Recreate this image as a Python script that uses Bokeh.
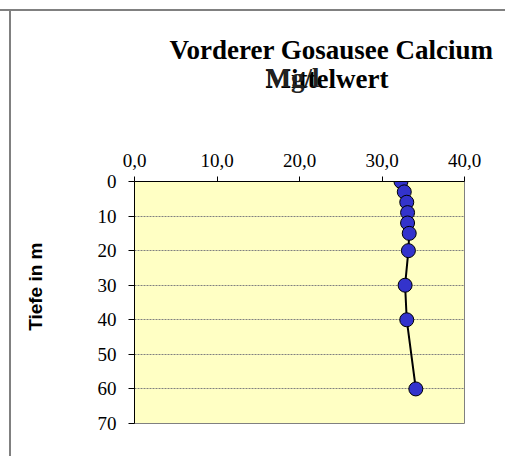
from bokeh.plotting import figure
from bokeh.models import Range1d, FixedTicker, Title
from bokeh.embed import file_html
from bokeh.resources import INLINE

# data
calcium = [32.3, 32.7, 33.0, 33.1, 33.1, 33.3, 33.2, 32.8, 33.0, 34.1]
depth = [0, 3, 6, 9, 12, 15, 20, 30, 40, 60]
x_ticks = [0, 10, 20, 30, 40]
x_tick_labels = ["0,0", "10,0", "20,0", "30,0", "40,0"]
y_ticks = [0, 10, 20, 30, 40, 50, 60, 70]
title_line1 = "Vorderer Gosausee Calcium"
title_line2a = "Mg/l"
title_line2b = "Mittelwert"
y_label = "Tiefe in m"

SERIF = "Liberation Serif"
SANS = "Liberation Sans"

frame_lines = {
    "background-image": "linear-gradient(#808080, #808080), linear-gradient(#808080, #808080)",
    "background-size": "100% 2px, 2px 100%",
    "background-position": "0px 9px, 9px 9px",
    "background-repeat": "no-repeat",
    "background-color": "white",
}

p = figure(output_backend="svg", toolbar_location=None,
           frame_width=330, frame_height=242,
           x_range=Range1d(0, 40), y_range=Range1d(70, 0),
           x_axis_location="above",
           min_border_left=134, min_border_right=41,
           min_border_top=181, min_border_bottom=33,
           background_fill_color="#FFFFC4", border_fill_color=None,
           outline_line_color="#808080",
           styles=frame_lines)

p.xaxis.ticker = FixedTicker(ticks=x_ticks)
p.xaxis.major_label_overrides = {t: l for t, l in zip(x_ticks, x_tick_labels)}
p.yaxis.ticker = FixedTicker(ticks=y_ticks)
for ax in (p.xaxis, p.yaxis):
    ax.major_label_text_font = SERIF
    ax.major_label_text_font_size = "19px"
    ax.major_label_text_color = "black"
    ax.axis_line_color = "black"
    ax.major_tick_line_color = "black"
    ax.major_tick_in = 0
    ax.minor_tick_line_color = None
p.xaxis.major_tick_out = 5
p.xaxis.major_label_standoff = 10
p.yaxis.major_tick_out = 6
p.yaxis.major_label_standoff = 12
p.yaxis.axis_label = "\u00a0" * 6 + y_label
p.yaxis.axis_label_text_font = SANS
p.yaxis.axis_label_text_font_size = "19px"
p.yaxis.axis_label_text_font_style = "bold"
p.yaxis.axis_label_text_color = "black"
p.yaxis.axis_label_standoff = 49

p.xgrid.grid_line_color = None
p.ygrid.grid_line_color = "#808080"
p.ygrid.grid_line_dash = "2 1"
p.ygrid.grid_line_width = 1

p.line(calcium, depth, line_color="black", line_width=2)
p.scatter(calcium, depth, size=14, fill_color="#3333CC", line_color="black", line_width=1)

p.add_layout(Title(text=title_line2b, text_font=SERIF, text_font_size="27px", text_color="black",
                   text_font_style="bold", align="left", offset=131, standoff=114), "above")
p.add_layout(Title(text=title_line1, text_font=SERIF, text_font_size="27px", text_color="black",
                   text_font_style="bold", align="left", offset=35, standoff=-120), "above")
p.add_layout(Title(text=title_line2a, text_font=SERIF, text_font_size="27px", text_color="#222222",
                   text_font_style="bold", align="left", offset=131, standoff=-176), "above")

open("out.html", "w").write(file_html(p, INLINE))
